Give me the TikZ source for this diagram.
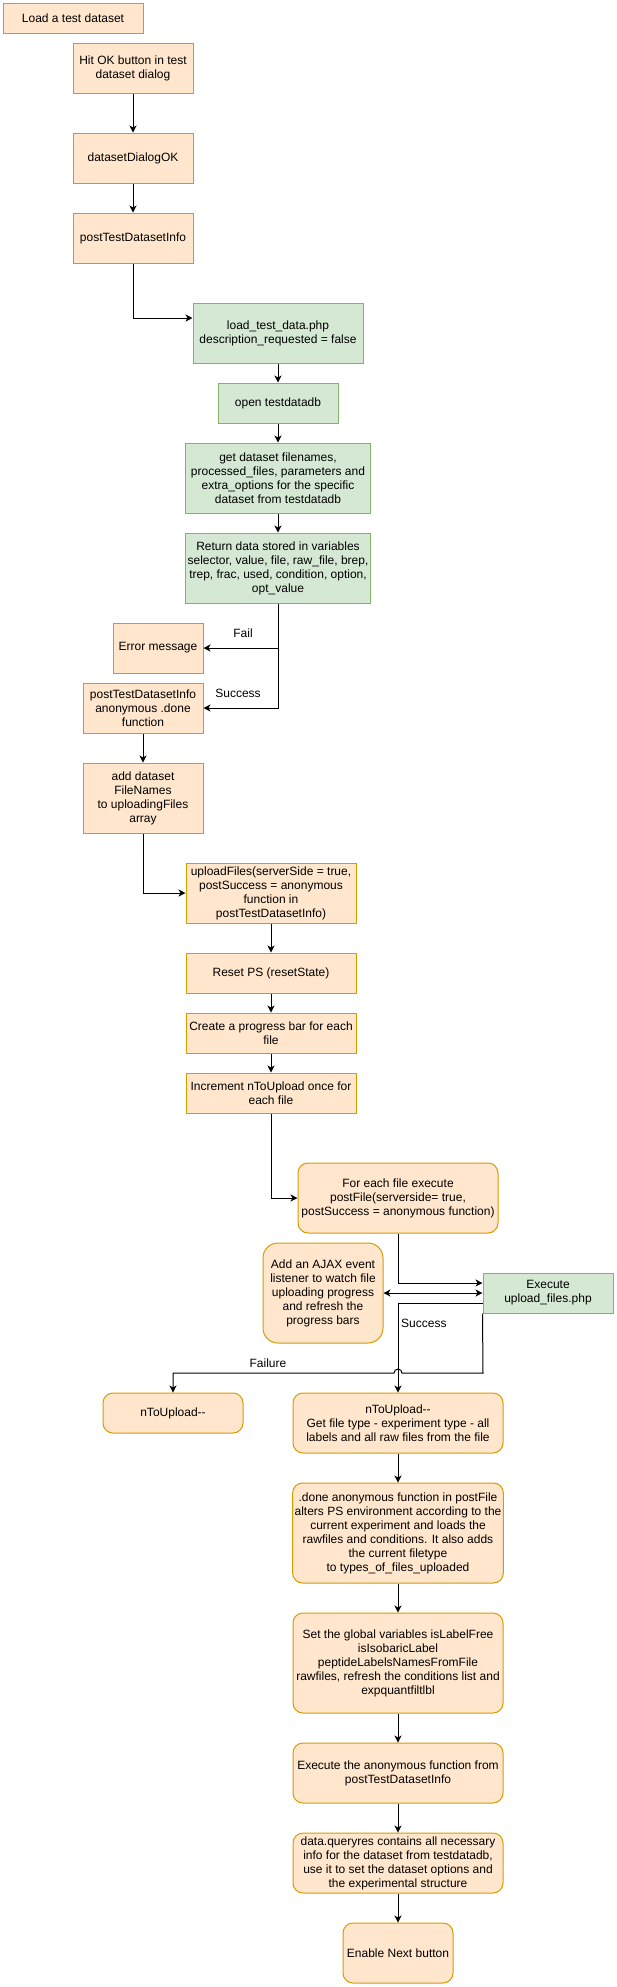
\documentclass[tikz,border=0pt]{standalone}
\usepackage{fontspec}
\setmainfont{Liberation Sans}
\usetikzlibrary{arrows.meta}
\definecolor{ofill}{HTML}{FFE6CC}
\definecolor{odraw}{HTML}{D79B00}
\definecolor{gfill}{HTML}{D5E8D4}
\definecolor{gdraw}{HTML}{82B366}
\begin{document}
\begin{tikzpicture}[x=1pt,y=-1pt,
  box/.style={draw, line width=1pt, align=center, inner sep=2pt, font=\fontsize{12}{14}\selectfont, text=black},
  obox/.style={box, fill=ofill, draw=odraw},
  gbox/.style={box, fill=gfill, draw=gdraw},
  rbox/.style={obox, rounded corners=10pt},
  arr/.style={-{Stealth[length=7pt,width=7pt,inset=2pt]}, line width=1pt},
  darr/.style={{Stealth[length=7pt,width=7pt,inset=2pt]}-{Stealth[length=7pt,width=7pt,inset=2pt]}, line width=1pt},
  lbl/.style={font=\fontsize{12}{14}\selectfont, inner sep=0pt}]
\useasboundingbox (0,0) rectangle (617,1987);

\node[obox, minimum width=140pt, minimum height=30pt] (load) at (73,18) {Load a test dataset};
\node[obox, minimum width=120pt, minimum height=50pt] (hitok) at (133,68) {Hit OK button in test\\dataset dialog};
\node[obox, minimum width=120pt, minimum height=50pt] (dlgok) at (133,158) {datasetDialogOK};
\node[obox, minimum width=120pt, minimum height=50pt] (ptdi) at (133,238) {postTestDatasetInfo};
\node[gbox, minimum width=170pt, minimum height=60pt] (ltd) at (278,333) {load\_test\_data.php\\description\_requested = false};
\node[gbox, minimum width=120pt, minimum height=40pt] (open) at (278,403) {open testdatadb};
\node[gbox, minimum width=185pt, minimum height=70pt] (getds) at (278,478) {get dataset filenames,\\processed\_files, parameters and\\extra\_options for the specific\\dataset from testdatadb};
\node[gbox, minimum width=185pt, minimum height=70pt] (ret) at (278,568) {Return data stored in variables\\selector, value, file, raw\_file, brep,\\trep, frac, used, condition, option,\\opt\_value};
\node[obox, minimum width=90pt, minimum height=50pt] (err) at (158,648) {Error message};
\node[obox, minimum width=120pt, minimum height=50pt] (anon) at (143,708) {postTestDatasetInfo\\anonymous .done\\function};
\node[obox, minimum width=120pt, minimum height=70pt] (add) at (143,798) {add dataset\\FileNames\\to uploadingFiles\\array};
\node[obox, minimum width=170pt, minimum height=60pt] (upl) at (271,893) {uploadFiles(serverSide = true,\\postSuccess = anonymous\\function in\\postTestDatasetInfo)};
\node[obox, minimum width=170pt, minimum height=40pt] (reset) at (271,973) {Reset PS (resetState)};
\node[obox, minimum width=170pt, minimum height=40pt] (prog) at (271,1033) {Create a progress bar for each\\file};
\node[obox, minimum width=170pt, minimum height=40pt] (incr) at (271,1093) {Increment nToUpload once for\\each file};
\node[rbox, minimum width=200pt, minimum height=70pt] (foreach) at (398,1198) {For each file execute\\postFile(serverside= true,\\postSuccess = anonymous function)};
\node[rbox, rounded corners=15pt, minimum width=120pt, minimum height=100pt] (ajax) at (323,1293) {Add an AJAX event\\listener to watch file\\uploading progress\\and refresh the\\progress bars};
\node[gbox, minimum width=130pt, minimum height=40pt] (exec) at (548,1293) {Execute\\upload\_files.php};
\node[rbox, minimum width=140pt, minimum height=40pt] (ntu1) at (173,1413) {nToUpload-{}-};
\node[rbox, minimum width=210pt, minimum height=60pt] (ntu2) at (398,1423) {nToUpload-{}-\\Get file type - experiment type - all\\labels and all raw files from the file};
\node[rbox, minimum width=210pt, minimum height=100pt] (done) at (398,1533) {.done anonymous function in postFile\\alters PS environment according to the\\current experiment and loads the\\rawfiles and conditions. It also adds\\the current filetype\\to types\_of\_files\_uploaded};
\node[rbox, minimum width=210pt, minimum height=100pt] (setg) at (398,1663) {Set the global variables isLabelFree\\isIsobaricLabel\\peptideLabelsNamesFromFile\\rawfiles, refresh the conditions list and\\expquantfiltlbl};
\node[rbox, minimum width=210pt, minimum height=60pt] (exanon) at (398,1773) {Execute the anonymous function from\\postTestDatasetInfo};
\node[rbox, minimum width=210pt, minimum height=60pt] (dq) at (398,1863) {data.queryres contains all necessary\\info for the dataset from testdatadb,\\use it to set the dataset options and\\the experimental structure};
\node[rbox, minimum width=110pt, minimum height=60pt] (enable) at (398,1953) {Enable Next button};

\draw[arr] (hitok) -- (dlgok);
\draw[arr] (dlgok) -- (ptdi);
\draw[arr] (ptdi.south) |- ([yshift=15pt]ltd.west);
\draw[arr] (ltd) -- (open);
\draw[arr] (open) -- (getds);
\draw[arr] (getds) -- (ret);
\draw[arr] (ret.south) |- (err.east);
\draw[arr] (ret.south) |- (anon.east);
\node[lbl] (failL) at (243,633) {Fail};
\node[lbl] (succL) at (238,693) {Success};
\draw[arr] (anon) -- (add);
\draw[arr] (add.south) |- (upl.west);
\draw[arr] (upl) -- (reset);
\draw[arr] (reset) -- (prog);
\draw[arr] (prog) -- (incr);
\draw[arr] (incr.south) |- (foreach.west);
\draw[arr] (foreach.south) |- ([yshift=10pt]exec.west);
\draw[darr] (ajax.east) -- (exec.west);
\draw[arr] ([yshift=-10pt]exec.west) -| (ntu2.north);
\node[lbl, anchor=west] (succU) at (401,1323) {Success};
\coordinate (f1) at (483,1373);
\coordinate (h1) at (402,1373);
\coordinate (f2) at (173,1373);
\draw[arr] (exec.south west) -- (f1) -- (h1) arc[start angle=0, end angle=180, radius=4pt] -- (f2) -- (ntu1.north);
\node[lbl] (failU) at (268,1363) {Failure};
\draw[arr] (ntu2) -- (done);
\draw[arr] (done) -- (setg);
\draw[arr] (setg) -- (exanon);
\draw[arr] (exanon) -- (dq);
\draw[arr] (dq) -- (enable);
\end{tikzpicture}
\end{document}
